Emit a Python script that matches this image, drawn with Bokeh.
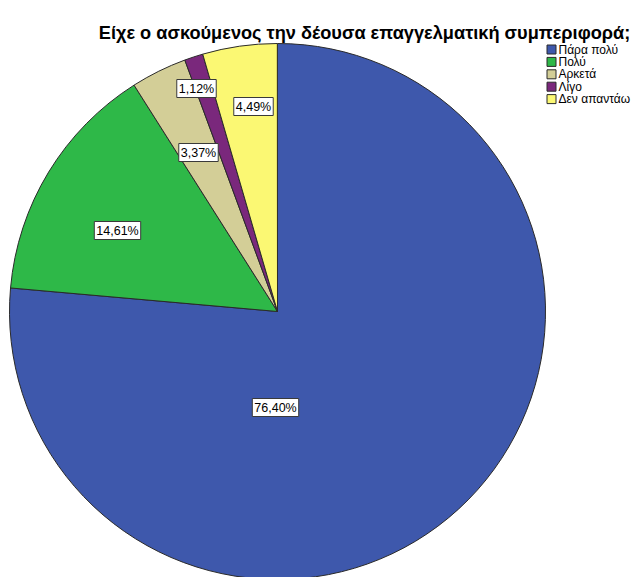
import numpy as np
from bokeh.plotting import figure
from bokeh.models import Range1d, Label, ColumnDataSource
from bokeh.core.properties import value
from bokeh.embed import file_html
from bokeh.resources import INLINE

# ---- data ----
title_text = "Είχε ο ασκούμενος την δέουσα επαγγελματική συμπεριφορά;"
categories = ["Πάρα πολύ", "Πολύ", "Αρκετά", "Λίγο", "Δεν απαντάω"]
percentages = [76.40, 14.61, 3.37, 1.12, 4.49]
colors = ["#3E58AC", "#2EB848", "#D3CE97", "#7A287C", "#FBF873"]

# ---- layout (screenshot pixel coordinates) ----
W, H = 641, 577
PAGE_H = 577
def py(y):  # screenshot y -> data y
    return PAGE_H - y

cx, cy_page, R = 277, 311, 268
cy = py(cy_page)
label_offsets = [(-2, 96), (-160, -81), (-79, -159), (-81, -223), (-24, -205)]

p = figure(width=W, height=H, output_backend="svg", toolbar_location=None,
           x_range=Range1d(0, W), y_range=Range1d(PAGE_H - H, PAGE_H),
           min_border=0, outline_line_color=None)
p.axis.visible = False
p.grid.visible = False
p.background_fill_color = "white"
p.border_fill_color = "white"

frac = np.array(percentages) / 100.0
cum = np.concatenate([[0.0], np.cumsum(frac)])
start = np.pi / 2 - 2 * np.pi * cum[:-1]
end = np.pi / 2 - 2 * np.pi * cum[1:]

src = ColumnDataSource(dict(start=start, end=end, color=colors, cat=categories))
p.wedge(x=cx, y=cy, radius=R, start_angle="start", end_angle="end",
        direction="clock", fill_color="color", line_color="#2a2a2a",
        line_width=1, source=src)

# percentage labels
for v, (dx, dy) in zip(percentages, label_offsets):
    txt = f"{v:.2f}".replace(".", ",") + "%"
    p.add_layout(Label(x=cx + dx, y=py(cy_page + dy), text=txt,
                       text_align="center", text_baseline="middle",
                       text_font="Liberation Sans", text_font_size="12.5px",
                       text_color="black", background_fill_color="white",
                       border_line_color="#3a3a3a", border_line_width=1,
                       padding=2))

# title
p.add_layout(Label(x=364, y=py(32), text=title_text, text_align="center",
                   text_baseline="alphabetic", text_font="Liberation Sans",
                   text_font_style="bold", text_font_size="18.2px",
                   text_color="black"))

# legend
ly = [py(49 + 12.4 * i) for i in range(len(categories))]
lsrc = ColumnDataSource(dict(x=[551] * len(categories), y=ly,
                             tx=[558] * len(categories), cat=categories,
                             color=colors))
p.rect(x="x", y="y", width=9, height=9, fill_color="color",
       line_color="#2a2a2a", line_width=1, source=lsrc)
p.text(x="tx", y="y", text="cat", text_font=value("Liberation Sans"),
       text_font_size="12px", text_baseline="middle", text_align="left",
       text_color="black", source=lsrc)

open("out.html", "w").write(file_html(p, INLINE))
